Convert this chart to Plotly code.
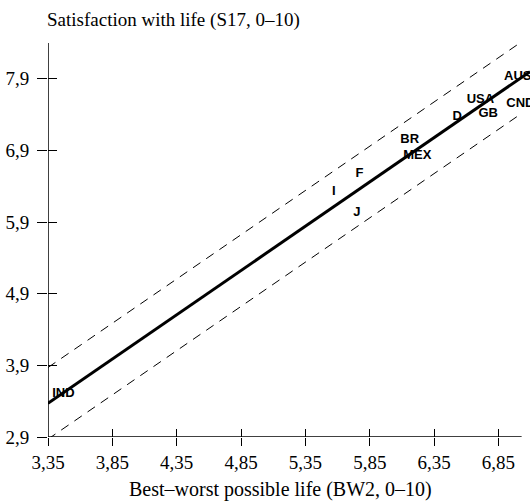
import plotly.graph_objects as go

countries = ["IND", "I", "F", "J", "BR", "MEX", "D", "USA", "GB", "AUS", "CND"]
bw2 = [3.47, 5.57, 5.77, 5.75, 6.16, 6.22, 6.53, 6.71, 6.77, 7.00, 7.02]
s17 = [3.51, 6.33, 6.58, 6.03, 7.05, 6.82, 7.37, 7.61, 7.41, 7.93, 7.55]

fit_x = [3.35, 7.095]
fit_y = [3.37, 8.00]
upper_x = [3.35, 7.0]
upper_y = [3.87, 8.38]
lower_x = [3.35, 7.0]
lower_y = [2.87, 7.38]

x_ticks = [3.35, 3.85, 4.35, 4.85, 5.35, 5.85, 6.35, 6.85]
x_ticklabels = ["3,35", "3,85", "4,35", "4,85", "5,35", "5,85", "6,35", "6,85"]
y_ticks = [2.9, 3.9, 4.9, 5.9, 6.9, 7.9]
y_ticklabels = ["2,9", "3,9", "4,9", "5,9", "6,9", "7,9"]

x_range = [3.35, 7.095]
x_axis_end = 7.03
y_range = [2.9, 8.4]

serif = "Liberation Serif, Times New Roman, serif"

fig = go.Figure()
fig.add_trace(go.Scatter(x=upper_x, y=upper_y, mode="lines",
                         line=dict(color="black", width=1, dash="9px,7px"), hoverinfo="skip"))
fig.add_trace(go.Scatter(x=lower_x, y=lower_y, mode="lines",
                         line=dict(color="black", width=1, dash="9px,7px"), hoverinfo="skip"))
fig.add_trace(go.Scatter(x=fit_x, y=fit_y, mode="lines",
                         line=dict(color="black", width=3), hoverinfo="skip"))
fig.add_trace(go.Scatter(x=bw2, y=s17, mode="text", text=countries,
                         textposition="middle center", cliponaxis=False,
                         textfont=dict(family="Liberation Sans Narrow, Liberation Sans, Arial, sans-serif",
                                       size=13, color="black", weight="bold")))
# invisible trace on overlay axes (inner tick halves)
fig.add_trace(go.Scatter(x=[x_range[0]], y=[y_range[0]], xaxis="x2", yaxis="y2",
                         mode="markers", marker=dict(opacity=0), hoverinfo="skip"))

fig.update_layout(
    width=530, height=503,
    margin=dict(l=48, r=0, t=43, b=66),
    paper_bgcolor="white", plot_bgcolor="white",
    showlegend=False,
    xaxis=dict(range=x_range, tickvals=x_ticks, ticktext=x_ticklabels,
               ticks="outside", ticklen=8, tickwidth=1, tickcolor="black",
               showgrid=False, zeroline=False, showline=False,
               tickfont=dict(family=serif, size=19, color="black"),
               ticklabelstandoff=0),
    yaxis=dict(range=y_range, tickvals=y_ticks, ticktext=y_ticklabels,
               ticks="outside", ticklen=10, tickwidth=1, tickcolor="black",
               showgrid=False, zeroline=False, showline=False,
               tickfont=dict(family=serif, size=19, color="black"),
               ticklabelstandoff=4),
    xaxis2=dict(range=x_range, overlaying="x", tickvals=x_ticks, ticks="inside",
                ticklen=8, tickwidth=1, tickcolor="black", showticklabels=False,
                showgrid=False, zeroline=False, showline=False, side="bottom"),
    yaxis2=dict(range=y_range, overlaying="y", tickvals=y_ticks, ticks="inside",
                ticklen=9, tickwidth=1, tickcolor="black", showticklabels=False,
                showgrid=False, zeroline=False, showline=False, side="left"),
    shapes=[
        dict(type="line", xref="x", yref="y", x0=x_range[0], x1=x_axis_end,
             y0=y_range[0], y1=y_range[0], line=dict(color="black", width=1.5)),
        dict(type="line", xref="x", yref="y", x0=x_range[0], x1=x_range[0],
             y0=y_range[0], y1=y_range[1], line=dict(color="black", width=1.5)),
    ],
    annotations=[
        dict(text="Satisfaction with life (S17, 0\u201310)", xref="paper", yref="paper",
             x=0.2614, y=1.058, xanchor="center", yanchor="middle", showarrow=False,
             font=dict(family=serif, size=19, color="black")),
        dict(text="Best\u2013worst possible life (BW2, 0\u201310)", xref="paper", yref="paper",
             x=0.483, y=-0.1345, xanchor="center", yanchor="middle", showarrow=False,
             font=dict(family=serif, size=20, color="black")),
    ],
)

fig.write_html("out.html")
